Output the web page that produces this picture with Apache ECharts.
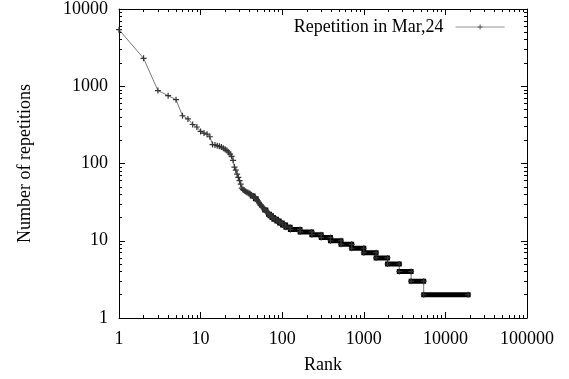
<!DOCTYPE html>
<html>
<head>
<meta charset="utf-8">
<script src="https://cdn.jsdelivr.net/npm/echarts@6/dist/echarts.min.js"></script>
<style>
  html, body { margin: 0; padding: 0; background: #fff; }
  #chart { width: 569px; height: 379px; }
</style>
</head>
<body>
<div id="chart"></div>
<script>
// head of the rank curve, one value per rank
const headRanks = [1, 2, 3, 4, 5, 6, 7, 8, 9, 10, 11, 12, 13, 14, 15, 16, 17, 18, 19, 20,
  21, 22, 23, 24, 25, 26, 27, 28, 29, 30, 31, 32, 33, 34, 35, 36, 37, 38, 39, 40]
const headValues = [5400, 2300, 880, 755, 670, 415, 378, 320, 297, 260, 248, 240, 222, 176, 174, 170, 167, 163, 158, 153,
  147, 140, 132, 124, 110, 90, 82, 73, 66, 60, 54, 48, 46, 45, 44, 43, 42, 42, 41, 41]

// tail: every rank up to stepEnds[i] has stepValues[i] repetitions
const stepValues = [40, 39, 38, 37, 36, 35, 34, 33, 32, 31, 30, 29, 28, 27, 26, 25, 24, 23, 22, 21,
  20, 19, 18, 17, 16, 15, 14, 13, 12, 11, 10, 9, 8, 7, 6, 5, 4, 3, 2]
const stepEnds = [41, 42, 44, 45, 46, 48, 49, 50, 51, 52, 53, 55, 56, 58, 60, 63, 65, 67, 70, 74,
  78, 85, 92, 100, 110, 125, 165, 230, 300, 390, 525, 710, 1000, 1415, 1950, 2720, 3800, 5420, 19000]

const FONT = 'Liberation Serif'
const plus = 'path://M2,0H3V2H5V3H3V5H2V3H0V2H2Z'

const lineData = headRanks.map((r, i) => [r, headValues[i]])
const bandData = []
let start = headRanks[headRanks.length - 1] + 1
stepValues.forEach((v, i) => {
  lineData.push([start, v])
  if (stepEnds[i] !== start) lineData.push([stepEnds[i], v])
  bandData.push([start, v], [stepEnds[i], v], '-')
  start = stepEnds[i] + 1
})

const text = { fontFamily: FONT, fontSize: 18, color: '#000' }

// gnuplot style frame: inward major + minor ticks on all four sides
function logAxis(max, position, showLabel, margin) {
  return {
    type: 'log',
    logBase: 10,
    min: 1,
    max,
    position,
    axisLine: { show: true, lineStyle: { color: '#000', width: 1 } },
    splitLine: { show: false },
    axisTick: { show: true, inside: true, length: 6, lineStyle: { color: '#000' } },
    minorTick: { show: true, splitNumber: 9, length: 3, lineStyle: { color: '#000' } },
    axisLabel: showLabel
      ? { ...text, margin, formatter: (v) => String(Math.round(v)) }
      : { show: false },
  }
}

const xs = [logAxis(100000, 'bottom', true, 12), logAxis(100000, 'top', false)]
xs[0].name = 'Rank'
xs[0].nameLocation = 'middle'
xs[0].nameGap = 38
xs[0].nameTextStyle = text

const ys = [logAxis(10000, 'left', true, 11), logAxis(10000, 'right', false)]
ys[0].name = 'Number of repetitions'
ys[0].nameLocation = 'middle'
ys[0].nameGap = 85
ys[0].nameTextStyle = text

const chart = echarts.init(document.getElementById('chart'), null, { renderer: 'canvas' })
chart.setOption({
  animation: false,
  backgroundColor: '#fff',
  grid: { left: 119, top: 9, right: 42, bottom: 60 },
  legend: {
    data: ['Repetition in Mar,24'],
    right: 59,
    top: 13,
    align: 'right',
    itemWidth: 49,
    itemHeight: 6,
    lineStyle: { color: '#777', width: 0.8 },
    itemStyle: { color: '#555' },
    textStyle: { ...text, padding: [0, 7, 0, 0] },
  },
  xAxis: xs,
  yAxis: ys,
  series: [
    {
      name: 'Repetition in Mar,24',
      type: 'line',
      data: lineData,
      symbol: plus,
      symbolSize: 6,
      showAllSymbol: true,
      itemStyle: { color: '#333' },
      lineStyle: { color: '#555', width: 0.8 },
    },
    {
      name: 'band',
      type: 'line',
      data: bandData,
      symbol: 'none',
      connectNulls: false,
      lineStyle: { color: '#000', width: 5, cap: 'square' },
      silent: true,
    },
  ],
})
</script>
</body>
</html>
